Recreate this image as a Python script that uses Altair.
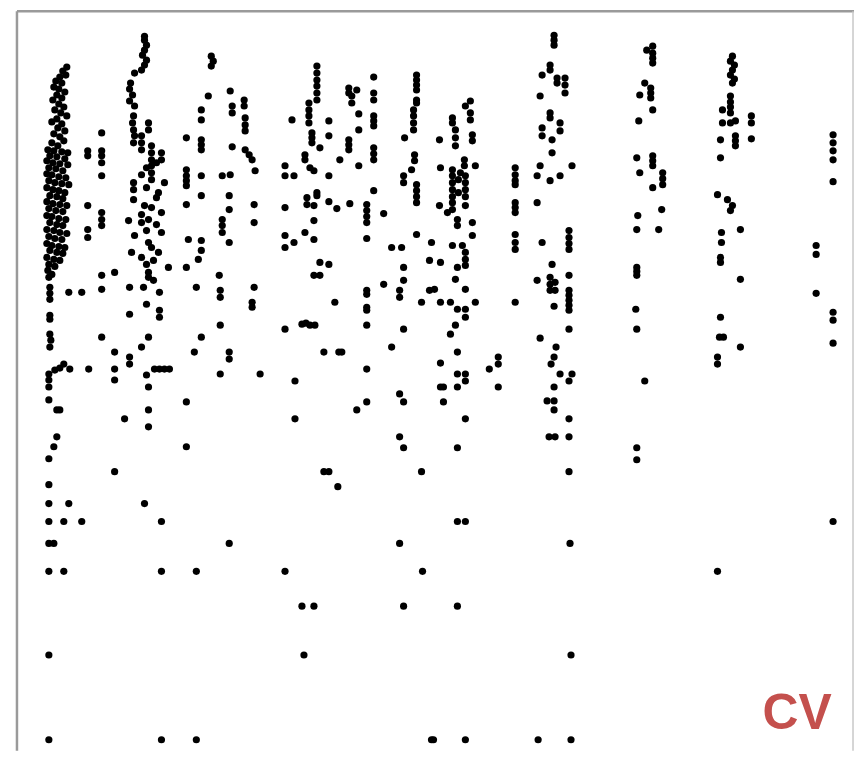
import altair as alt
import pandas as pd

# Point readings (x position, y position) per column group
col_a = [(65,64),(61,68),(64,72),(58,74),(54,78),(60,80),(52,84),(57,86),(63,89),(55,92),(60,95),(51,97),
         (57,101),(62,104),(53,107),(59,110),(65,113),(55,116),(50,119),(60,121),(56,125),(63,128),(52,131),
         (58,134),(62,138),(50,140),(56,143),(46,147),(52,148),(60,149),(66,150),(48,153),(55,154),(63,156),
         (45,158),(51,160),(58,161),(66,162),(47,165),(54,166),(61,168),(45,171),(50,172),(57,174),(64,175),
         (47,178),(53,180),(60,181),(67,182),(45,185),(51,187),(57,188),(63,190),(48,193),(55,194),(61,196),
         (45,199),(51,201),(58,202),(65,203),(47,206),(54,208),(61,209),(45,213),(50,214),(57,216),(64,217),
         (48,220),(55,222),(61,223),(45,227),(52,228),(58,230),(65,231),(47,234),(53,236),(60,237),(45,241),
         (50,243),(57,244),(63,245),(48,248),(55,250),(61,251),(45,255),(52,257),(58,258),(47,262),(53,264),
         (46,268),(50,272),(47,275),(48,285),(48,291),(48,297),(67,290),(80,290),(48,313),(48,317),(48,332),
         (49,338),(48,345),(47,372),(47,378),(47,385),(53,368),(58,366),(62,362),(68,367),(87,367),(47,398),
         (55,408),(58,408),(55,435),(52,445),(47,457),(47,483),(47,502),(67,502),(47,520),(62,520),(80,520),
         (47,542),(52,542),(47,570),(62,570),(47,654),(47,739)]
col_b = [(100,130),(100,148),(100,153),(100,160),(86,148),(86,153),(100,173),(86,203),(100,210),(100,217),
         (100,223),(86,227),(86,235),(100,273),(113,270),(100,287),(100,335),(113,350),(113,367),(113,378),
         (113,470),(123,417)]
col_d = [(143,33),(143,37),(145,42),(143,47),(141,52),(145,57),(143,62),(140,67),(133,70),(129,80),(128,86),
         (131,92),(128,98),(133,103),(132,113),(131,120),(132,127),(133,133),(132,140),(147,120),(147,127),
         (140,133),(140,140),(140,147),(150,143),(150,150),(160,150),(160,157),(150,157),(150,163),(145,165),
         (150,170),(140,172),(150,177),(132,180),(132,187),(163,180),(157,190),(132,197),(143,203),(147,217),
         (127,218),(140,220),(160,230),(133,233),(147,240),(155,160),(145,185),(155,195),(150,205),(160,210),
         (140,212),(155,222),(145,228),(150,245),(157,250),(140,255),(145,262),(152,258),(130,250),
         (128,285),(142,285),(147,270),(147,275),(152,278),(158,290),(167,265),(145,302),(158,308),(158,315),
         (128,312),(147,335),(140,345),(128,355),(128,362),(153,367),(158,367),(163,367),(168,367),(145,373),
         (147,385),(147,408),(147,425),(143,502),(160,520),(160,570),(160,739)]
col_e = [(185,135),(200,137),(200,142),(200,147),(185,167),(185,173),(185,178),(185,183),(200,173),(200,193),
         (185,202),(187,237),(200,238),(200,248),(200,107),(200,117),(207,93),(185,265),(197,257),(195,285),
         (200,335),(193,350),(185,400),(185,445),(195,570),(195,739)]
col_f = [(210,53),(212,58),(210,63),(229,88),(231,103),(231,110),(243,97),(243,103),(244,115),(244,122),
         (244,128),(231,144),(244,147),(248,152),(251,157),(254,168),(221,173),(229,172),(228,193),(228,207),
         (253,202),(253,220),(221,217),(221,223),(221,230),(228,240),(218,273),(219,288),(219,295),(253,285),
         (251,300),(251,305),(219,323),(228,350),(228,357),(219,372),(259,372),(228,542)]
col_h = [(291,117),(316,63),(316,70),(316,77),(316,83),(316,90),(316,97),(308,100),(308,107),(308,113),
         (308,120),(311,130),(311,135),(311,140),(319,145),(328,118),(328,133),(304,152),(304,157),(309,165),
         (313,168),(284,163),(284,173),(293,173),(328,173),(306,195),(306,202),(316,190),(316,193),(313,203),
         (328,199),(336,206),(349,201),(284,205),(313,218),(284,233),(284,245),(293,240),(304,230),(313,237),
         (319,260),(328,262),(313,273),(319,273),(334,300),(284,327),(301,322),(305,321),(309,323),(314,323),
         (323,350),(338,350),(341,350),(294,379),(294,417),(323,470),(328,470),(337,485),(284,570),(301,605),
         (313,605),(303,654)]
col_j = [(348,85),(348,90),(356,87),(351,93),(351,100),(358,111),(358,127),(348,137),(348,142),(348,147),
         (339,157),(358,163),(373,74),(373,90),(373,97),(373,113),(373,118),(373,123),(373,145),(373,151),
         (373,157),(373,188),(366,202),(366,208),(366,214),(366,220),(366,236),(383,211),(366,288),(366,292),
         (366,305),(366,308),(366,323),(366,367),(366,400),(356,408)]
col_k = [(391,245),(401,245),(416,72),(416,77),(416,82),(416,87),(416,97),(416,100),(413,107),(413,113),
         (413,120),(413,127),(404,135),(414,152),(414,158),(411,167),(403,173),(403,180),(416,182),(416,188),
         (416,194),(416,200),(416,232),(431,240),(383,282),(403,265),(403,278),(399,288),(399,295),(421,300),
         (429,258),(429,288),(403,327),(391,345),(399,392),(403,400),(399,435),(403,446),(421,470),(399,542),
         (422,570),(403,605),(431,739)]
col_l = [(470,98),(465,103),(470,110),(470,117),(452,115),(452,120),(455,127),(455,135),(455,143),(472,132),
         (472,138),(439,137),(464,157),(464,163),(475,163),(440,165),(452,167),(452,173),(452,180),(452,187),
         (452,194),(452,200),(452,207),(465,173),(465,180),(465,187),(465,194),(465,203),(458,177),(458,190),
         (460,170),(439,203),(447,210),(457,217),(457,223),(472,220),(472,233),(452,243),(462,243),(465,250),
         (440,260),(457,265),(465,257),(465,263),(455,277),(434,287),(465,287),(440,300),(450,300),(457,307),
         (465,307),(465,315),(475,300),(455,323),(450,332),(457,350),(440,361),(457,372),(465,372),(465,379),
         (440,385),(443,385),(457,385),(443,400),(465,417),(457,446),(457,520),(465,520),(457,605),(433,739),
         (465,739)]
col_m = [(515,165),(515,172),(515,178),(515,182),(515,200),(515,205),(515,210),(515,232),(515,240),(515,247),
         (515,300),(498,355),(498,362),(489,367),(498,385)]
col_n = [(554,32),(554,37),(554,42),(550,62),(550,67),(542,72),(557,75),(557,80),(565,75),(565,82),(565,90),
         (540,93),(550,110),(550,115),(560,120),(560,128),(542,125),(542,133),(552,137),(552,150),(572,163),
         (540,163),(537,173),(550,178),(560,173),(537,200),(542,240),(569,228),(569,235),(569,241),(569,247),
         (552,262),(537,278),(550,275),(550,282),(550,288),(555,280),(555,288),(569,273),(569,288),(569,293),
         (569,298),(569,303),(569,308),(554,304),(569,327),(540,336),(556,345),(554,355),(551,362),(560,372),
         (572,372),(569,379),(554,385),(547,399),(554,399),(554,408),(569,417),(549,435),(555,435),(569,435),
         (569,470),(570,542),(571,654),(538,739),(571,739)]
col_o = [(647,47),(653,43),(653,50),(653,55),(653,60),(645,80),(651,85),(651,90),(651,95),(640,92),(653,107),
         (639,118),(637,155),(653,153),(653,158),(653,163),(640,170),(663,170),(663,176),(663,182),(653,185),
         (662,207),(659,227),(638,213),(637,227),(637,265),(637,269),(637,273),(636,307),(637,327),(645,379),
         (637,446),(637,458)]
col_p = [(733,53),(731,58),(735,62),(733,67),(731,72),(735,76),(733,80),(731,93),(731,99),(731,104),(731,110),
         (723,107),(723,120),(731,120),(736,118),(736,133),(736,138),(736,143),(721,137),(721,155),(752,113),
         (752,120),(752,136),(718,192),(728,197),(733,203),(731,208),(722,230),(722,240),(741,227),(721,255),
         (721,260),(741,277),(721,315),(720,335),(724,335),(741,345),(718,355),(718,362),(718,570)]
col_q = [(834,132),(834,140),(834,148),(834,157),(834,179),(817,243),(817,252),(817,291),(834,310),(834,318),
         (834,341),(834,520)]

groups = [col_a, col_b, col_d, col_e, col_f, col_h, col_j, col_k, col_l, col_m, col_n, col_o, col_p, col_q]
xs = [p[0] for g in groups for p in g]
ys = [p[1] for g in groups for p in g]
df = pd.DataFrame({"x": xs, "y": ys})

label = "CV"
W, H = 840, 742

points = alt.Chart(df).mark_circle(size=52, color="black", opacity=1).encode(
    x=alt.X("x:Q", scale=alt.Scale(domain=[15, 15 + W], nice=False, zero=False), axis=None),
    y=alt.Y("y:Q", scale=alt.Scale(domain=[8, 8 + H], nice=False, zero=False, reverse=True), axis=None),
)

left_edge = alt.Chart().mark_rule(color="#9a9a9a", strokeWidth=2.5).encode(
    x=alt.value(0), y=alt.value(0), y2=alt.value(H))
top_edge = alt.Chart().mark_rule(color="#9a9a9a", strokeWidth=2.5).encode(
    x=alt.value(0), x2=alt.value(W), y=alt.value(0))
right_edge = alt.Chart().mark_rule(color="#c8c8c8", strokeWidth=1.5).encode(
    x=alt.value(W - 1), y=alt.value(0), y2=alt.value(H))

text = alt.Chart(pd.DataFrame({"t": [label]})).mark_text(
    font="Liberation Sans", fontSize=50, fontWeight="bold", color="#C4504D",
    align="center", baseline="alphabetic"
).encode(text="t:N", x=alt.value(783), y=alt.value(720))

chart = (points + left_edge + top_edge + right_edge + text).properties(
    width=W, height=H,
    padding={"left": 7, "top": 0, "right": 0, "bottom": 0},
).configure_view(strokeWidth=0)

chart.save("out.html", embed_options={"renderer": "svg", "actions": False})
